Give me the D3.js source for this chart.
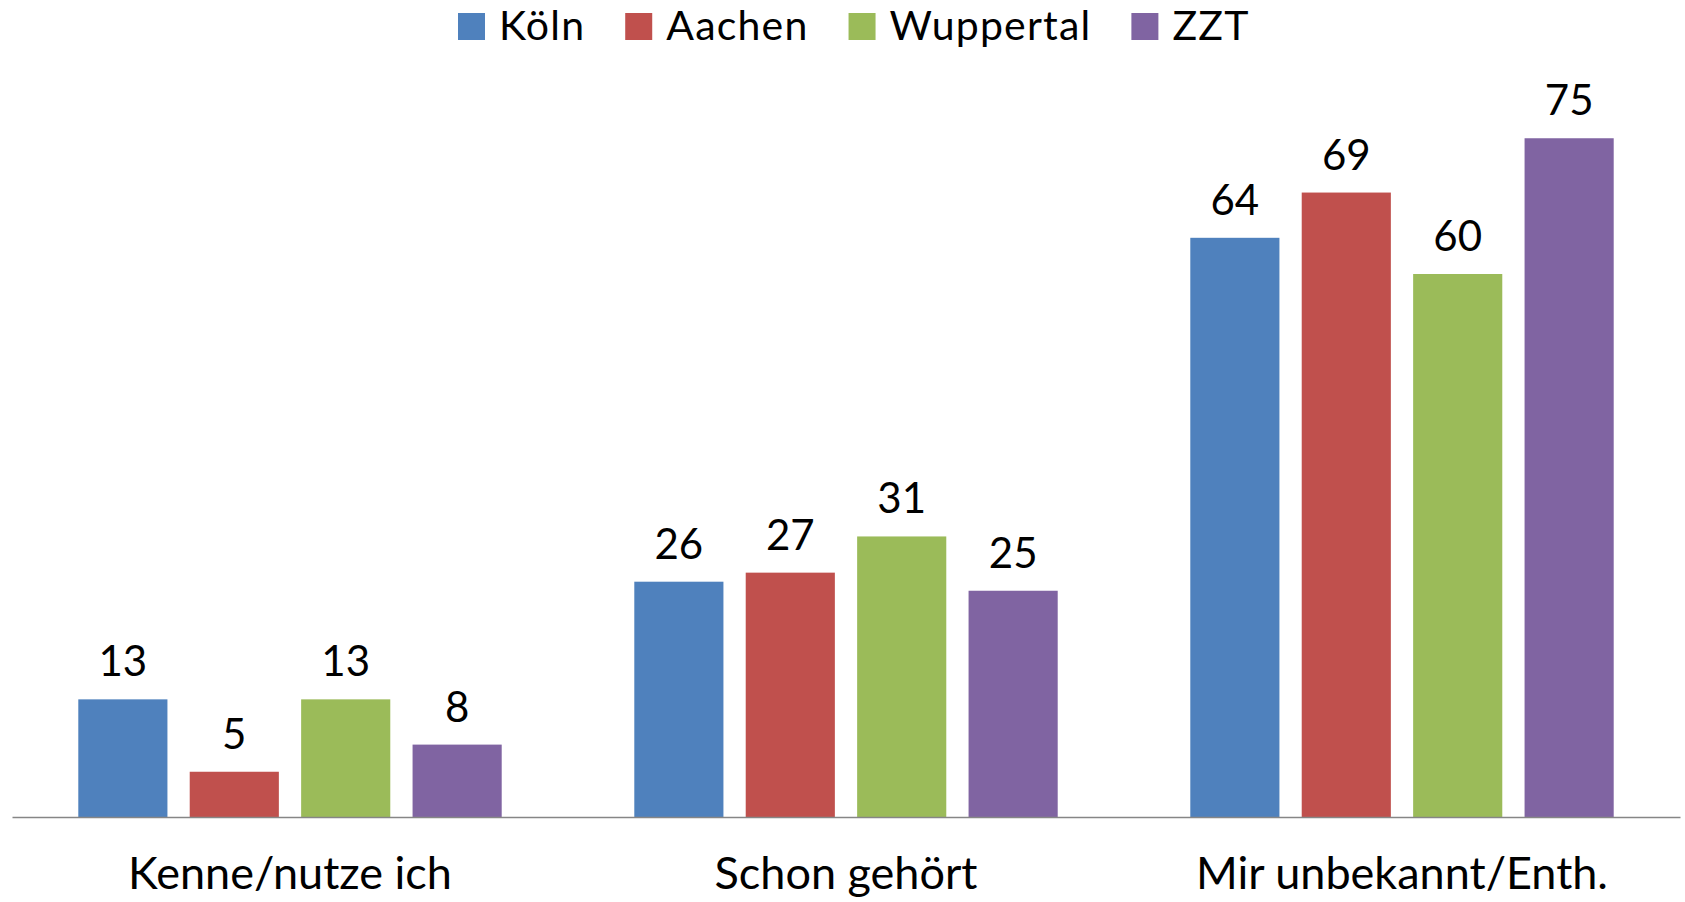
<!DOCTYPE html>
<html>
<head>
<meta charset="utf-8">
<script src="https://cdn.jsdelivr.net/npm/d3@7"></script>
<style>
  body { margin: 0; background: #fff; }
  svg { display: block; font-family: Lato, "Open Sans", sans-serif; }
</style>
</head>
<body>
<div id="chart"></div>
<script>
'use strict'

// categories on the x axis
var categories = ["Kenne/nutze ich", "Schon gehört", "Mir unbekannt/Enth."]
// one series per city
var series = ["Köln", "Aachen", "Wuppertal", "ZZT"]
var colors = ["#4F81BD", "#C0504D", "#9BBB59", "#8064A2"]
// values per series, in category order
var koeln = [13, 26, 64]
var aachen = [5, 27, 69]
var wuppertal = [13, 31, 60]
var zzt = [8, 25, 75]

var values = [koeln, aachen, wuppertal, zzt]

var width = 1685
var height = 902
var margin = {left: 12, right: 5, top: 93, bottom: 85}

const svg = d3.select("#chart")
              .append("svg")
              .attr("width", width)
              .attr("height", height)

// build rows for the bars
var rows = []
categories.forEach(function(c, ci){
    series.forEach(function(s, si){
        rows.push({cat: c, ser: s, idx: si, value: values[si][ci]})
    })
})

var x0 = d3.scaleBand()
           .domain(categories)
           .range([margin.left, width - margin.right])
           .padding(0)

var x1 = d3.scaleBand()
           .domain(series)
           .range([0, x0.bandwidth()])
           .paddingInner(0.2)
           .paddingOuter(0.595)

var y = d3.scaleLinear()
          .domain([0, 80])
          .range([height - margin.bottom, margin.top])

// bars
svg.selectAll("rect.bar")
   .data(rows)
   .enter()
   .append("rect")
   .attr("class", "bar")
   .attr("x", (d) => x0(d.cat) + x1(d.ser))
   .attr("y", (d) => y(d.value))
   .attr("width", x1.bandwidth())
   .attr("height", (d) => y(0) - y(d.value))
   .attr("fill", (d) => colors[d.idx])

// value labels
svg.selectAll("text.val")
   .data(rows)
   .enter()
   .append("text")
   .attr("class", "val")
   .attr("x", (d) => x0(d.cat) + x1(d.ser) + x1.bandwidth() / 2)
   .attr("y", (d) => y(d.value) - 23)
   .attr("text-anchor", "middle")
   .style("font-size", "42px")
   .attr("fill", "#000")
   .text((d) => d.value)

// x axis line and category labels
var xAxis = d3.axisBottom(x0).tickSize(0).tickPadding(40)
const gx = svg.append("g")
   .attr("transform", "translate(0," + y(0) + ")")
   .call(xAxis)
gx.select(".domain").attr("stroke", "#868686").attr("stroke-width", 1.5)
gx.selectAll("text")
  .style("font-size", "45px")
  .style("font-family", "Lato, 'Open Sans', sans-serif")
  .attr("fill", "#000")

// legend
var legendX = 458
var legend = svg.append("g")
series.forEach(function(s, i){
    var g = legend.append("g")
    g.append("rect")
     .attr("x", legendX)
     .attr("y", 13)
     .attr("width", 27)
     .attr("height", 27)
     .attr("fill", colors[i])
    var t = g.append("text")
     .attr("x", legendX + 27 + 14)
     .attr("y", 40)
     .style("font-size", "41px")
     .style("letter-spacing", "1.2px")
     .attr("fill", "#000")
     .text(s)
    legendX = legendX + 27 + 14 + t.node().getComputedTextLength() + 40
})
</script>
</body>
</html>
